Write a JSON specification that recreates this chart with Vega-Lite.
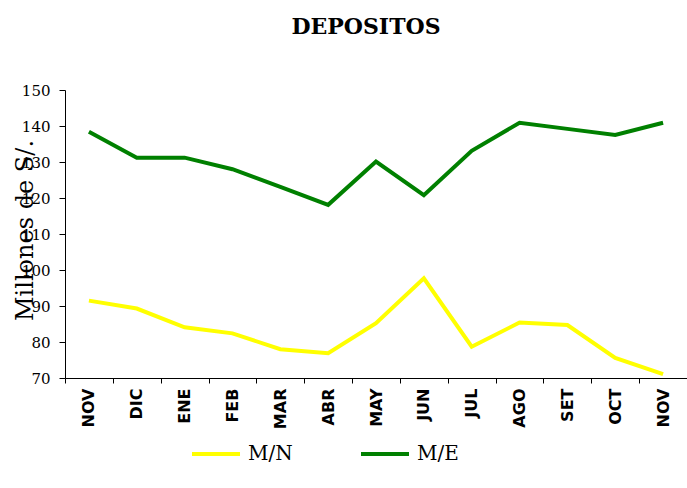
{
  "$schema": "https://vega.github.io/schema/vega-lite/v6.json",
  "autosize": "none",
  "width": 622,
  "height": 288,
  "padding": {"left": 65, "top": 90, "right": 0, "bottom": 110},
  "background": "white",
  "title": {
    "text": "DEPOSITOS",
    "font": "DejaVu Serif",
    "fontSize": 22,
    "fontWeight": "bold",
    "color": "black",
    "anchor": "middle",
    "dx": -10,
    "offset": 44
  },
  "data": {
    "values": [
      {"mes": "NOV 1", "serie": "M/N", "valor": 91.5},
      {"mes": "DIC", "serie": "M/N", "valor": 89.3},
      {"mes": "ENE", "serie": "M/N", "valor": 84.1},
      {"mes": "FEB", "serie": "M/N", "valor": 82.4},
      {"mes": "MAR", "serie": "M/N", "valor": 78.0},
      {"mes": "ABR", "serie": "M/N", "valor": 76.9},
      {"mes": "MAY", "serie": "M/N", "valor": 85.2},
      {"mes": "JUN", "serie": "M/N", "valor": 97.7},
      {"mes": "JUL", "serie": "M/N", "valor": 78.7},
      {"mes": "AGO", "serie": "M/N", "valor": 85.4},
      {"mes": "SET", "serie": "M/N", "valor": 84.7},
      {"mes": "OCT", "serie": "M/N", "valor": 75.6},
      {"mes": "NOV 2", "serie": "M/N", "valor": 71.1},
      {"mes": "NOV 1", "serie": "M/E", "valor": 138.4},
      {"mes": "DIC", "serie": "M/E", "valor": 131.2},
      {"mes": "ENE", "serie": "M/E", "valor": 131.2},
      {"mes": "FEB", "serie": "M/E", "valor": 128.0},
      {"mes": "MAR", "serie": "M/E", "valor": 123.1},
      {"mes": "ABR", "serie": "M/E", "valor": 118.1},
      {"mes": "MAY", "serie": "M/E", "valor": 130.1},
      {"mes": "JUN", "serie": "M/E", "valor": 120.8},
      {"mes": "JUL", "serie": "M/E", "valor": 133.1},
      {"mes": "AGO", "serie": "M/E", "valor": 140.9},
      {"mes": "SET", "serie": "M/E", "valor": 139.2},
      {"mes": "OCT", "serie": "M/E", "valor": 137.5},
      {"mes": "NOV 2", "serie": "M/E", "valor": 140.9}
    ]
  },
  "mark": {"type": "line", "strokeWidth": 4, "strokeJoin": "miter"},
  "encoding": {
    "x": {
      "field": "mes",
      "type": "ordinal",
      "sort": null,
      "scale": {"type": "band", "paddingInner": 0, "paddingOuter": 0},
      "axis": {
        "title": null,
        "labelExpr": "slice(datum.label, 0, 3)",
        "labelAngle": -90,
        "labelAlign": "right",
        "labelBaseline": "middle",
        "labelFont": "DejaVu Sans",
        "labelFontWeight": "bold",
        "labelFontSize": 16,
        "labelColor": "black",
        "labelPadding": 5,
        "tickBand": "extent",
        "tickSize": 5,
        "tickColor": "black",
        "domainColor": "black",
        "grid": false
      }
    },
    "y": {
      "field": "valor",
      "type": "quantitative",
      "scale": {"domain": [70, 150], "nice": false, "zero": false},
      "axis": {
        "title": "Millones de S/.",
        "titleFont": "DejaVu Serif",
        "titleFontSize": 24,
        "titleFontWeight": "normal",
        "titleColor": "black",
        "titleAngle": -90,
        "titleX": -33,
        "titleY": 140,
        "titleAlign": "center",
        "titleBaseline": "alphabetic",
        "values": [70, 80, 90, 100, 110, 120, 130, 140, 150],
        "labelFont": "DejaVu Serif",
        "labelFontSize": 15,
        "labelColor": "black",
        "labelPadding": 9,
        "tickSize": 6,
        "tickColor": "black",
        "domainColor": "black",
        "grid": false
      }
    },
    "color": {
      "field": "serie",
      "type": "nominal",
      "scale": {"domain": ["M/N", "M/E"], "range": ["#FFFF00", "#008000"]},
      "legend": {
        "title": null,
        "orient": "none",
        "direction": "horizontal",
        "legendX": 125,
        "legendY": 338,
        "symbolType": "stroke",
        "symbolSize": 2304,
        "symbolStrokeWidth": 4,
        "labelFont": "DejaVu Serif",
        "labelFontSize": 20,
        "labelColor": "black",
        "labelOffset": 6,
        "columnPadding": 60
      }
    }
  },
  "config": {
    "view": {"stroke": null}
  }
}
